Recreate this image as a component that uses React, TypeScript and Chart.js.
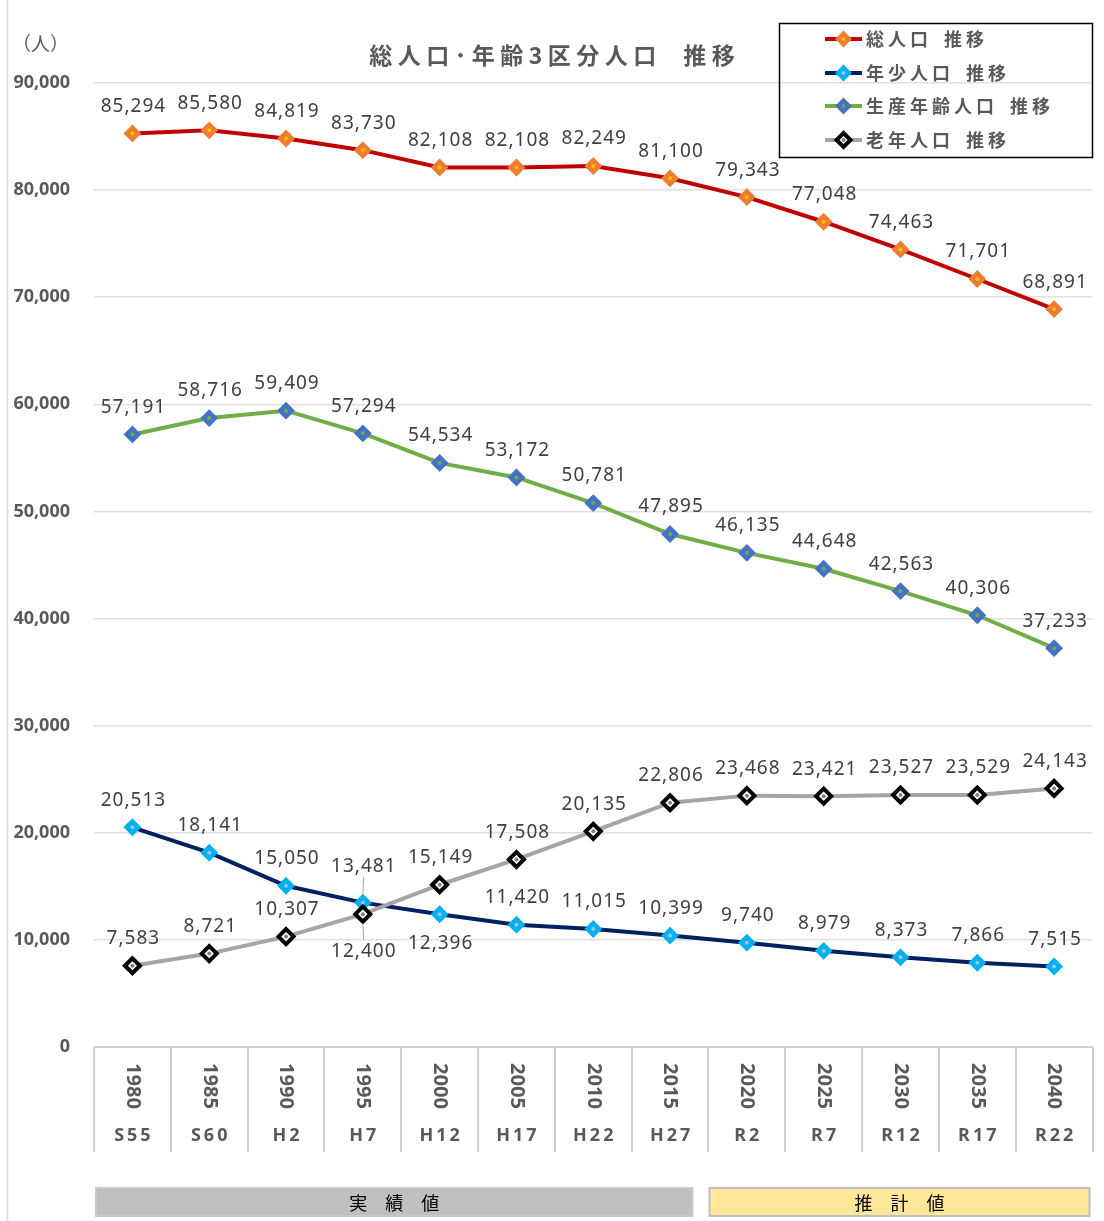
import { useEffect, useRef } from "react";
import { Chart, registerables } from "chart.js";

Chart.register(...registerables);

// ---- data ----
const years = ["1980", "1985", "1990", "1995", "2000", "2005", "2010", "2015", "2020", "2025", "2030", "2035", "2040"];
const eras = ["S55", "S60", "H2", "H7", "H12", "H17", "H22", "H27", "R2", "R7", "R12", "R17", "R22"];
const totalPop = [85294, 85580, 84819, 83730, 82108, 82108, 82249, 81100, 79343, 77048, 74463, 71701, 68891];
const youngPop = [20513, 18141, 15050, 13481, 12396, 11420, 11015, 10399, 9740, 8979, 8373, 7866, 7515];
const workingPop = [57191, 58716, 59409, 57294, 54534, 53172, 50781, 47895, 46135, 44648, 42563, 40306, 37233];
const elderlyPop = [7583, 8721, 10307, 12400, 15149, 17508, 20135, 22806, 23468, 23421, 23527, 23529, 24143];
const seriesNames = ["総人口 推移", "年少人口 推移", "生産年齢人口 推移", "老年人口 推移"];
const titleText = "総人口･年齢3区分人口 推移";
const unitText = "（人）";
const periodLabels = ["実　績　値", "推　計　値"];
const actualCount = 8; // number of categories that are actual values
const yMin = 0;
const yMax = 90000;
const yStep = 10000;

// ---- styles ----
const FONT_JP = "'Noto Sans CJK JP', 'Noto Sans', sans-serif";
const FONT_NUM = "'Noto Sans', 'Noto Sans CJK JP', sans-serif";
const TEXT_GRAY = "#595959";
const LABEL_GRAY = "#404040";
const TABLE_LINE = "#d0d0d0";

const seriesStyles = [
  { line: "#C00000", fill: "#ED7D31", border: "#ED7D31", borderW: 2, dot: "#FFC000" },
  { line: "#002060", fill: "#00B0F0", border: "#00B0F0", borderW: 2, dot: "#9DC3E6" },
  { line: "#70AD47", fill: "#4472C4", border: "#4472C4", borderW: 2, dot: "#70AD47" },
  { line: "#A5A5A5", fill: "#FFFFFF", border: "#000000", borderW: 4, dot: "#808080" },
];

// label placement per series/point: "a" above, "b" below, "A" above with leader, "B" below with leader
const labelPlacement = [
  Array(13).fill("a"),
  ["a", "a", "a", "A", "b", "a", "a", "a", "a", "a", "a", "a", "a"],
  Array(13).fill("a"),
  ["a", "a", "a", "B", "a", "a", "a", "a", "a", "a", "a", "a", "a"],
];

const fmt = (v: number) => v.toLocaleString("en-US");

const drawSpaced = (
  ctx: CanvasRenderingContext2D,
  text: string,
  x: number,
  y: number,
  spacing: number,
  spaceW: number,
  align: "left" | "center"
) => {
  ctx.save();
  (ctx as any).letterSpacing = "0px";
  const chars = Array.from(text);
  const widths = chars.map((c) => (c === " " ? spaceW : ctx.measureText(c).width));
  const total = widths.reduce((a, b) => a + b, 0) + spacing * (chars.length - 1);
  let cx = align === "center" ? x - total / 2 : x;
  ctx.textAlign = "left";
  chars.forEach((c, i) => {
    if (c !== " ") ctx.fillText(c, cx, y);
    cx += widths[i] + spacing;
  });
  ctx.restore();
};

const drawMarker = (ctx: CanvasRenderingContext2D, x: number, y: number, s: any, r: number) => {
  ctx.save();
  ctx.beginPath();
  ctx.moveTo(x, y - r);
  ctx.lineTo(x + r, y);
  ctx.lineTo(x, y + r);
  ctx.lineTo(x - r, y);
  ctx.closePath();
  ctx.fillStyle = s.fill;
  ctx.fill();
  ctx.lineWidth = s.borderW;
  ctx.strokeStyle = s.border;
  ctx.lineJoin = "miter";
  ctx.stroke();
  ctx.beginPath();
  ctx.arc(x, y, 2, 0, Math.PI * 2);
  ctx.fillStyle = s.dot;
  ctx.fill();
  ctx.restore();
};

const dotsAndLabelsPlugin = {
  id: "dotsAndLabels",
  afterDatasetsDraw(chart: any) {
    const ctx: CanvasRenderingContext2D = chart.ctx;
    // center dots
    chart.data.datasets.forEach((_: any, i: number) => {
      const meta = chart.getDatasetMeta(i);
      meta.data.forEach((pt: any) => {
        ctx.beginPath();
        ctx.arc(pt.x, pt.y, 2, 0, Math.PI * 2);
        ctx.fillStyle = seriesStyles[i].dot;
        ctx.fill();
      });
    });
    // data labels
    ctx.save();
    ctx.font = `19px ${FONT_NUM}`;
    (ctx as any).letterSpacing = "1px";
    ctx.textAlign = "center";
    ctx.textBaseline = "middle";
    chart.data.datasets.forEach((ds: any, i: number) => {
      const meta = chart.getDatasetMeta(i);
      meta.data.forEach((pt: any, j: number) => {
        const p = labelPlacement[i][j];
        let ly = pt.y - 27;
        if (p === "b") ly = pt.y + 29;
        if (p === "A") ly = pt.y - 36;
        if (p === "B") ly = pt.y + 37;
        if (p === "A" || p === "B") {
          const dir = p === "A" ? -1 : 1;
          ctx.beginPath();
          ctx.moveTo(pt.x, pt.y + dir * 9);
          ctx.lineTo(pt.x + 1, pt.y + dir * 26);
          ctx.strokeStyle = "#a6a6a6";
          ctx.lineWidth = 1;
          ctx.stroke();
        }
        ctx.fillStyle = LABEL_GRAY;
        ctx.fillText(fmt(ds.data[j]), pt.x + 1, ly);
      });
    });
    ctx.restore();
  },
};

const decorPlugin = {
  id: "decor",
  afterDraw(chart: any) {
    const ctx: CanvasRenderingContext2D = chart.ctx;
    const { left, right, bottom } = chart.chartArea;
    const xs = chart.scales.x;
    const n = years.length;
    const px = (i: number) => xs.getPixelForValue(i);
    const bound = (i: number) => (i === 0 ? left : i === n ? right : (px(i - 1) + px(i)) / 2);
    ctx.save();

    // frame line on the left
    ctx.beginPath();
    ctx.moveTo(7.5, 0);
    ctx.lineTo(7.5, chart.height);
    ctx.strokeStyle = "#d9d9d9";
    ctx.lineWidth = 1.5;
    ctx.stroke();

    // category table
    ctx.strokeStyle = TABLE_LINE;
    ctx.lineWidth = 2;
    ctx.beginPath();
    ctx.moveTo(left, bottom);
    ctx.lineTo(right, bottom);
    for (let i = 0; i <= n; i++) {
      const x = Math.round(bound(i));
      ctx.moveTo(x, bottom);
      ctx.lineTo(x, bottom + 105);
    }
    ctx.stroke();

    ctx.fillStyle = TEXT_GRAY;
    ctx.textAlign = "center";
    ctx.textBaseline = "middle";
    for (let i = 0; i < n; i++) {
      ctx.save();
      ctx.translate(px(i), bottom + 39);
      ctx.rotate(Math.PI / 2);
      ctx.font = `bold 20px ${FONT_NUM}`;
      ctx.fillText(years[i], 0, 0);
      ctx.restore();
      ctx.save();
      ctx.font = `bold 18px ${FONT_NUM}`;
      (ctx as any).letterSpacing = "3px";
      ctx.fillText(eras[i], px(i) + 1.5, bottom + 89);
      ctx.restore();
    }

    // period bars
    const barTop = bottom + 141;
    const barH = 28;
    const b = bound(actualCount);
    const bars = [
      { x0: bound(0) + 2, x1: b - 16, fill: "#bfbfbf", stroke: "#c8c8c8", text: periodLabels[0] },
      { x0: b + 1, x1: right - 3, fill: "#FFE699", stroke: "#bfbfbf", text: periodLabels[1] },
    ];
    bars.forEach((br) => {
      ctx.fillStyle = br.fill;
      ctx.fillRect(br.x0, barTop, br.x1 - br.x0, barH);
      ctx.strokeStyle = br.stroke;
      ctx.lineWidth = 2;
      ctx.strokeRect(br.x0, barTop, br.x1 - br.x0, barH);
      ctx.fillStyle = "#000000";
      ctx.font = `18px ${FONT_JP}`;
      ctx.textAlign = "center";
      ctx.textBaseline = "middle";
      ctx.fillText(br.text, (br.x0 + br.x1) / 2, barTop + barH / 2 + 1);
    });

    // title
    ctx.font = `bold 23px ${FONT_JP}`;
    ctx.fillStyle = TEXT_GRAY;
    ctx.textBaseline = "middle";
    drawSpaced(ctx, titleText, chart.width / 2, 55, 5.5, 16, "center");

    // unit
    ctx.font = `19px ${FONT_JP}`;
    ctx.fillStyle = TEXT_GRAY;
    ctx.textAlign = "left";
    ctx.textBaseline = "middle";
    ctx.fillText(unitText, 12, 44);

    // legend
    const lx = 779.5, ly = 23.5, lw = 313, lh = 134;
    ctx.strokeStyle = "#000000";
    ctx.lineWidth = 1.5;
    ctx.strokeRect(lx, ly, lw, lh);
    const rows = [39, 73, 106, 140];
    seriesNames.forEach((name, i) => {
      const y = rows[i];
      const s = seriesStyles[i];
      ctx.beginPath();
      ctx.moveTo(825, y);
      ctx.lineTo(862, y);
      ctx.strokeStyle = s.line;
      ctx.lineWidth = 4;
      ctx.stroke();
      drawMarker(ctx, 843.5, y, s, 7);
      ctx.font = `bold 18px ${FONT_JP}`;
      ctx.fillStyle = TEXT_GRAY;
      ctx.textBaseline = "middle";
      drawSpaced(ctx, name, 866, y, 4, 8, "left");
    });

    ctx.restore();
  },
};

export default function App() {
  const ref = useRef<HTMLCanvasElement>(null);
  useEffect(() => {
    if (!ref.current) return;
    const series = [totalPop, youngPop, workingPop, elderlyPop];
    const chart = new Chart(ref.current, {
      type: "line",
      data: {
        labels: years,
        datasets: series.map((d, i) => ({
          label: seriesNames[i],
          data: d,
          borderColor: seriesStyles[i].line,
          borderWidth: 4,
          backgroundColor: seriesStyles[i].fill,
          pointStyle: "rectRot",
          pointRadius: 7.5,
          pointHoverRadius: 7.5,
          pointBackgroundColor: seriesStyles[i].fill,
          pointBorderColor: seriesStyles[i].border,
          pointBorderWidth: seriesStyles[i].borderW,
          tension: 0,
          fill: false,
          order: 3 - i,
        })),
      },
      options: {
        animation: false,
        responsive: false,
        devicePixelRatio: 1,
        layout: { padding: { top: 83, right: 3, bottom: 174, left: 0 } },
        plugins: {
          legend: { display: false },
          title: { display: false },
          tooltip: { enabled: false },
        },
        scales: {
          x: {
            type: "category",
            display: false,
            offset: true,
          },
          y: {
            min: yMin,
            max: yMax,
            border: { display: false },
            grid: { color: "#e0e0e0", lineWidth: 1.5, drawTicks: false },
            ticks: {
              stepSize: yStep,
              padding: 24,
              color: TEXT_GRAY,
              font: { family: FONT_NUM, size: 18, weight: "bold" },
              callback: (v: any) => fmt(Number(v)),
            },
            afterFit: (s: any) => {
              s.width = 94;
            },
          },
        },
      } as any,
      plugins: [dotsAndLabelsPlugin, decorPlugin],
    });
    return () => chart.destroy();
  }, []);
  return (
    <div style={{ position: "absolute", left: 0, top: 0, width: 1104, height: 1221, background: "#ffffff" }}>
      <canvas ref={ref} width={1104} height={1221} style={{ display: "block" }} />
    </div>
  );
}
